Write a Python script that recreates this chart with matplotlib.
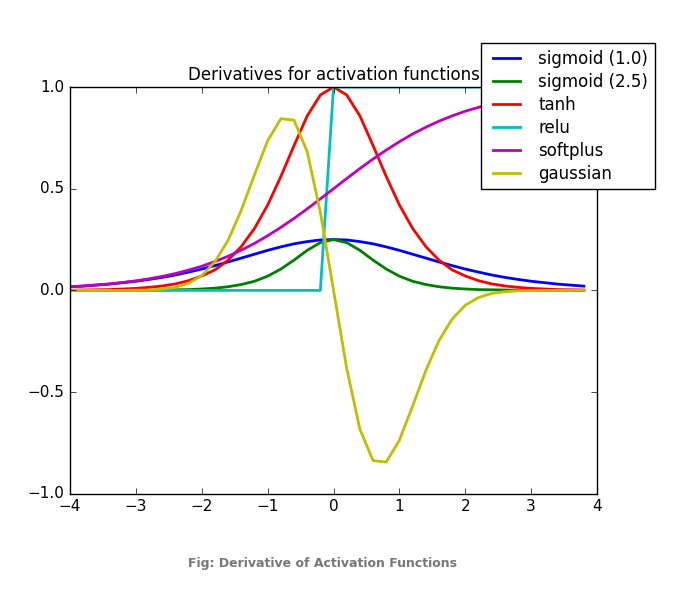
import matplotlib
matplotlib.use("Agg")
import matplotlib.pyplot as plt

plt.style.use('classic')

x = [round(-4.0 + 0.2 * i, 1) for i in range(40)]

sigmoid_1 = [0.018, 0.021, 0.026, 0.031, 0.038, 0.045, 0.054, 0.064, 0.076, 0.090,
             0.105, 0.122, 0.140, 0.159, 0.178, 0.197, 0.214, 0.229, 0.240, 0.248,
             0.250, 0.248, 0.240, 0.229, 0.214, 0.197, 0.178, 0.159, 0.140, 0.122,
             0.105, 0.090, 0.076, 0.064, 0.054, 0.045, 0.038, 0.031, 0.026, 0.021]
sigmoid_25 = [0.000, 0.000, 0.000, 0.000, 0.000, 0.001, 0.001, 0.002, 0.003, 0.004,
              0.007, 0.011, 0.018, 0.029, 0.045, 0.070, 0.105, 0.149, 0.197, 0.235,
              0.250, 0.235, 0.197, 0.149, 0.105, 0.070, 0.045, 0.029, 0.018, 0.011,
              0.007, 0.004, 0.003, 0.002, 0.001, 0.001, 0.000, 0.000, 0.000, 0.000]
tanh_d = [0.001, 0.002, 0.003, 0.004, 0.007, 0.010, 0.015, 0.022, 0.032, 0.048,
          0.071, 0.101, 0.149, 0.216, 0.305, 0.420, 0.560, 0.712, 0.858, 0.961,
          1.000, 0.961, 0.858, 0.712, 0.560, 0.420, 0.305, 0.216, 0.149, 0.101,
          0.071, 0.048, 0.032, 0.022, 0.015, 0.010, 0.007, 0.004, 0.003, 0.002]
relu_d = [0.0] * 20 + [1.0] * 20
softplus_d = [0.018, 0.022, 0.027, 0.032, 0.039, 0.047, 0.057, 0.069, 0.083, 0.100,
              0.119, 0.142, 0.168, 0.198, 0.231, 0.269, 0.310, 0.354, 0.401, 0.450,
              0.500, 0.550, 0.599, 0.646, 0.690, 0.731, 0.769, 0.802, 0.832, 0.858,
              0.881, 0.900, 0.917, 0.931, 0.943, 0.953, 0.961, 0.968, 0.973, 0.978]
gaussian_d = [0.000, 0.000, 0.000, 0.000, 0.000, 0.001, 0.002, 0.006, 0.015, 0.035,
              0.073, 0.141, 0.247, 0.395, 0.569, 0.736, 0.844, 0.837, 0.682, 0.384,
              0.000, -0.384, -0.682, -0.837, -0.844, -0.736, -0.569, -0.395, -0.247, -0.141,
              -0.073, -0.035, -0.015, -0.006, -0.002, -0.001, 0.000, 0.000, 0.000, 0.000]

series = [("sigmoid (1.0)", sigmoid_1, 'b'), ("sigmoid (2.5)", sigmoid_25, 'g'),
          ("tanh", tanh_d, 'r'), ("relu", relu_d, 'c'),
          ("softplus", softplus_d, 'm'), ("gaussian", gaussian_d, 'y')]

fig = plt.figure(figsize=(6.87, 6.0), dpi=100, facecolor='white')
ax = fig.add_axes([0.102, 0.177, 0.767, 0.678])
for label, ys, c in series:
    ax.plot(x, ys, color=c, linewidth=2, label=label)
ax.set_xlim(-4, 4)
ax.set_ylim(-1, 1)
ax.set_yticks([-1.0, -0.5, 0.0, 0.5, 1.0])
ax.set_title("Derivatives for activation functions", fontsize=12)
ax.tick_params(labelsize=11)
fig.legend(loc='upper right', bbox_to_anchor=(0.965, 0.942), fontsize=12,
           handlelength=2.2, labelspacing=0.3)
fig.text(0.47, 0.055, "Fig: Derivative of Activation Functions", ha='center',
         fontsize=9, fontweight='bold', color='#777777')
fig.savefig("out.png", dpi=100, facecolor='white')
